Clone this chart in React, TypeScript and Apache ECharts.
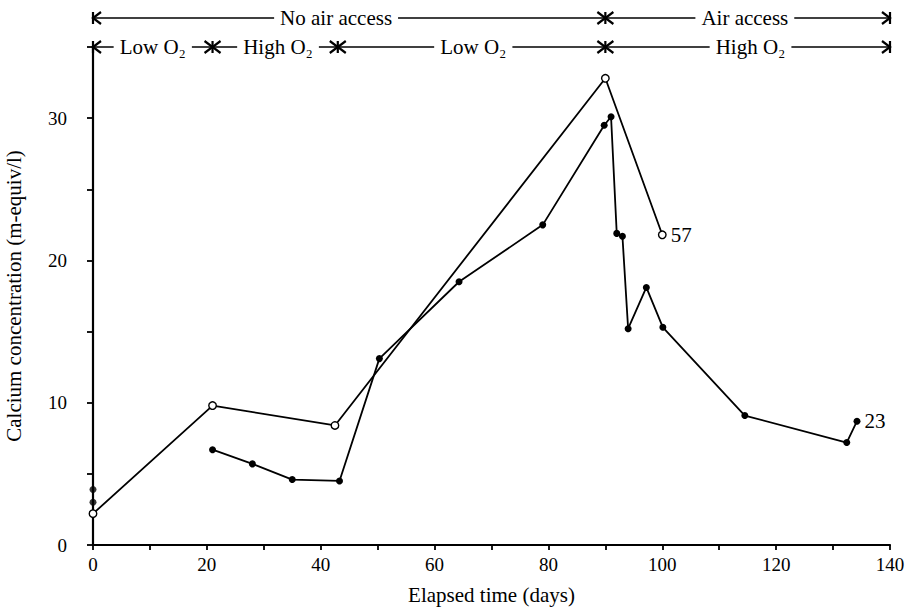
import React, { useEffect, useRef } from "react";
import * as echarts from "echarts";

// Open-circle series (label "57")
const openDays = [0, 21, 42.5, 90, 100];
const openCa = [2.2, 9.8, 8.4, 32.8, 21.8];
// Filled-circle series (label "23")
const filledDays = [21, 28, 35, 43.3, 50.3, 64.3, 79, 89.8, 91, 92, 93, 94, 97.2, 100.1, 114.5, 132.4, 134.2];
const filledCa = [6.7, 5.7, 4.6, 4.5, 13.1, 18.5, 22.5, 29.5, 30.1, 21.9, 21.7, 15.2, 18.1, 15.3, 9.1, 7.2, 8.7];
// Extra initial points
const startDays = [0, 0];
const startCa = [3.9, 3.0];

const openTag = "57";
const filledTag = "23";

// Top annotation rows
const row1Bounds = [0, 90, 140];
const row1Labels = ["No air access", "Air access"];
const row1LabelAt = [42.7, 114.5];
const row2Bounds = [0, 21, 43, 90, 140];
const row2Labels = ["Low O₂", "High O₂", "Low O₂", "High O₂"];
const row2LabelAt = [10.5, 32.5, 66.8, 115.5];

const FONT = "'Liberation Serif', 'DejaVu Serif', serif";

export default function App() {
  const ref = useRef<HTMLDivElement>(null);
  useEffect(() => {
    if (!ref.current) return;
    const chart = echarts.init(ref.current, null, { renderer: "svg" });
    const toPairs = (xs: number[], ys: number[]) => xs.map((x, i) => [x, ys[i]]);
    const openData: any[] = toPairs(openDays, openCa);
    openData[openData.length - 1] = {
      value: openData[openData.length - 1],
      label: { show: true, position: "right", distance: 4, formatter: openTag, fontFamily: FONT, fontSize: 21, color: "#000" },
    };
    const filledData: any[] = toPairs(filledDays, filledCa);
    filledData[filledData.length - 1] = {
      value: filledData[filledData.length - 1],
      label: { show: true, position: "right", distance: 4, formatter: filledTag, fontFamily: FONT, fontSize: 21, color: "#000" },
    };
    chart.setOption({
      animation: false,
      backgroundColor: "#fff",
      grid: { left: 93, right: 23, top: 47, bottom: 64, outerBoundsMode: "none", containLabel: false },
      xAxis: {
        type: "value",
        min: 0,
        max: 140,
        interval: 10,
        name: "Elapsed time (days)",
        nameLocation: "middle",
        nameGap: 39,
        nameTextStyle: { fontFamily: FONT, fontSize: 21, color: "#000" },
        axisLine: { lineStyle: { color: "#000", width: 2.2 } },
        axisTick: { length: 5, lineStyle: { color: "#000", width: 1.8 } },
        axisLabel: {
          fontFamily: FONT,
          fontSize: 19,
          color: "#000",
          margin: 10,
          formatter: (v: number) => (v % 20 === 0 ? String(v) : ""),
        },
        splitLine: { show: false },
      },
      yAxis: {
        type: "value",
        min: 0,
        max: 35,
        interval: 5,
        offset: 16,
        name: "Calcium concentration (m-equiv/l)",
        nameLocation: "middle",
        nameGap: 53,
        nameTextStyle: { fontFamily: FONT, fontSize: 21, color: "#000" },
        axisLine: { show: true, lineStyle: { color: "#000", width: 2.2 } },
        axisTick: { show: true, length: 6, lineStyle: { color: "#000", width: 1.8 } },
        axisLabel: {
          fontFamily: FONT,
          fontSize: 19,
          color: "#000",
          margin: 10,
          formatter: (v: number) => (v % 10 === 0 && v < 35 ? String(v) : ""),
        },
        splitLine: { show: false },
      },
      series: [
        {
          type: "line",
          data: openData,
          symbol: "circle",
          symbolSize: 7.5,
          itemStyle: { color: "#fff", borderColor: "#000", borderWidth: 1.4 },
          lineStyle: { color: "#000", width: 1.8 },
          z: 3,
        },
        {
          type: "line",
          data: filledData,
          symbol: "circle",
          symbolSize: 7,
          itemStyle: { color: "#000" },
          lineStyle: { color: "#000", width: 1.8 },
          z: 4,
        },
        {
          type: "scatter",
          data: toPairs(startDays, startCa),
          symbol: "circle",
          symbolSize: 7,
          itemStyle: { color: "#000" },
        },
      ],
    });

    const px = (d: number) => chart.convertToPixel({ gridIndex: 0 }, [d, 0])[0] as number;
    const graphics: any[] = [];
    const buildRow = (bounds: number[], labels: string[], labelAt: number[], y: number) => {
      const x0 = px(bounds[0]);
      const x1 = px(bounds[bounds.length - 1]);
      graphics.push({ type: "line", shape: { x1: x0, y1: y, x2: x1, y2: y }, style: { stroke: "#000", lineWidth: 1.6 }, z: 10 });
      bounds.forEach((b, i) => {
        const X = px(b);
        graphics.push({ type: "line", shape: { x1: X, y1: y - 6, x2: X, y2: y + 6 }, style: { stroke: "#000", lineWidth: 2.2 }, z: 10 });
        if (i > 0) {
          graphics.push({ type: "polyline", shape: { points: [[X - 8, y - 6], [X, y], [X - 8, y + 6]] }, style: { stroke: "#000", lineWidth: 2.2, fill: "none" }, z: 10 });
        }
        if (i < bounds.length - 1) {
          graphics.push({ type: "polyline", shape: { points: [[X + 8, y - 6], [X, y], [X + 8, y + 6]] }, style: { stroke: "#000", lineWidth: 2.2, fill: "none" }, z: 10 });
        }
      });
      labels.forEach((t, i) => {
        graphics.push({
          type: "text",
          x: px(labelAt[i]),
          y: y,
          z: 11,
          style: {
            text: t,
            fontFamily: FONT,
            fontSize: 21,
            fill: "#000",
            align: "center",
            verticalAlign: "middle",
            backgroundColor: "#fff",
            padding: [0, 6],
          },
        });
      });
    };
    buildRow(row1Bounds, row1Labels, row1LabelAt, 18);
    buildRow(row2Bounds, row2Labels, row2LabelAt, 47);
    chart.setOption({ graphic: graphics });

    return () => chart.dispose();
  }, []);
  return <div ref={ref} style={{ width: 913, height: 609, position: "absolute", left: 0, top: 0 }} />;
}
